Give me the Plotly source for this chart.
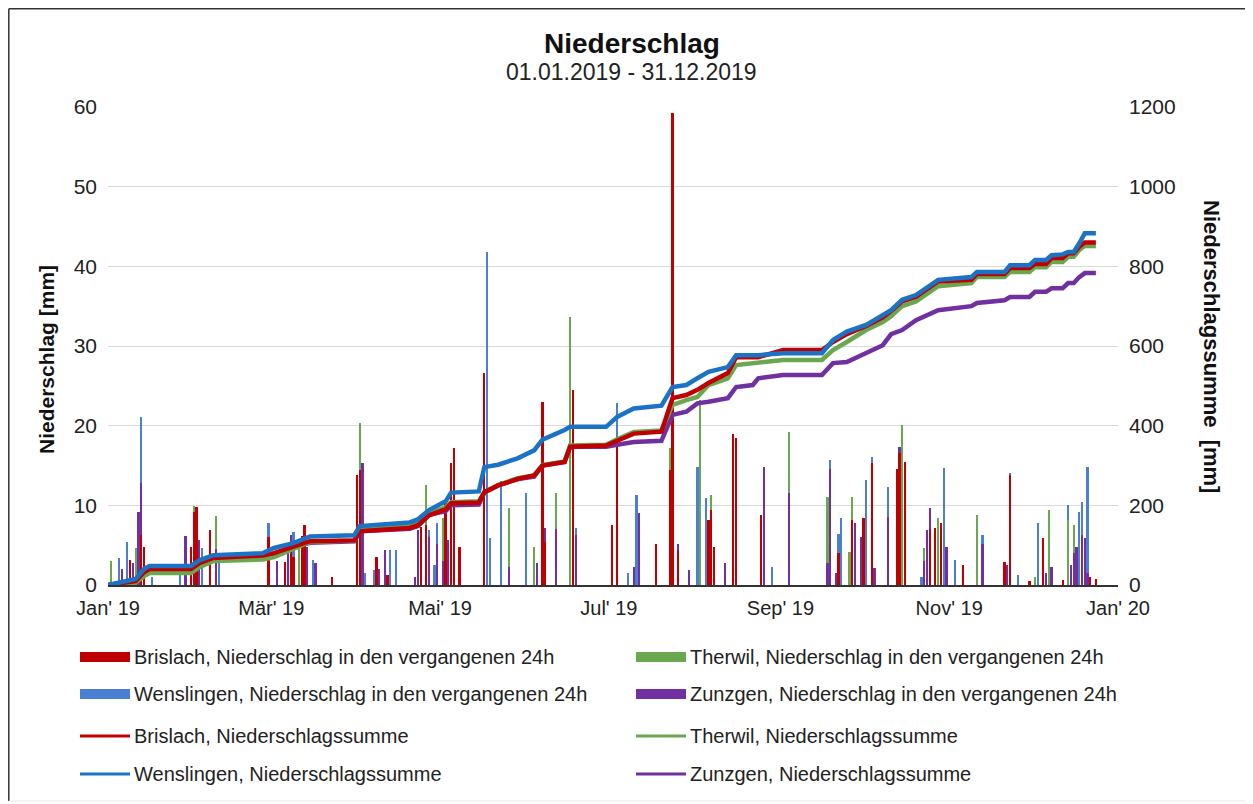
import plotly.graph_objects as go

# ---------------- data ----------------
x_tick_vals = ["2019-01-01", "2019-03-01", "2019-05-01", "2019-07-01",
               "2019-09-01", "2019-11-01", "2020-01-01"]
x_tick_text = ["Jan' 19", "Mär' 19", "Mai' 19", "Jul' 19", "Sep' 19", "Nov' 19", "Jan' 20"]

stations = ["Brislach", "Therwil", "Wenslingen", "Zunzgen"]

# daily precipitation (mm in previous 24h) – only days with visible bars
brislach_dates = ["2019-01-09", "2019-01-13", "2019-01-14", "2019-01-31", "2019-02-01", "2019-02-02",
                  "2019-02-07", "2019-02-28", "2019-03-06", "2019-03-08", "2019-03-09", "2019-03-12",
                  "2019-03-13", "2019-03-23", "2019-04-01", "2019-04-02", "2019-04-08", "2019-04-12",
                  "2019-04-24", "2019-04-26", "2019-05-03", "2019-05-05", "2019-05-06", "2019-05-08",
                  "2019-05-17", "2019-06-07", "2019-06-08", "2019-06-18", "2019-07-02", "2019-07-04",
                  "2019-07-18", "2019-07-23", "2019-07-24", "2019-07-26", "2019-08-06", "2019-08-07",
                  "2019-08-08", "2019-08-15", "2019-08-16", "2019-08-25", "2019-09-22", "2019-09-27",
                  "2019-10-01", "2019-10-04", "2019-10-13", "2019-10-14", "2019-10-16", "2019-10-25",
                  "2019-10-27", "2019-10-29", "2019-11-06", "2019-11-21", "2019-11-23", "2019-11-30",
                  "2019-12-05", "2019-12-12", "2019-12-22", "2019-12-24"]
brislach_values = [3.2, 6.3, 4.8, 4.8, 9.2, 9.8,
                   6.9, 6.0, 2.9, 4.4, 3.5, 6.1,
                   7.5, 1.0, 13.8, 14.4, 3.5, 1.2,
                   7.3, 7.5, 10.5, 15.3, 17.2, 4.8,
                   26.6, 23.0, 5.4, 24.5, 7.5, 17.5,
                   5.2, 14.4, 59.2, 4.4, 8.2, 9.4,
                   4.8, 19.0, 18.5, 8.8, 4.0, 8.1,
                   8.4, 15.3, 14.6, 16.6, 15.4, 7.0,
                   7.1, 7.8, 2.5, 2.9, 13.8, 0.5,
                   5.9, 0.6, 1.0, 0.8]

therwil_dates = ["2019-01-02", "2019-01-11", "2019-02-01", "2019-02-07", "2019-02-09", "2019-03-11",
                 "2019-03-12", "2019-04-02", "2019-04-26", "2019-05-02", "2019-05-26", "2019-06-04",
                 "2019-06-07", "2019-06-12", "2019-06-17", "2019-07-23", "2019-07-24", "2019-08-03",
                 "2019-08-07", "2019-08-16", "2019-09-04", "2019-09-18", "2019-09-26", "2019-09-27",
                 "2019-10-15", "2019-10-23", "2019-10-28", "2019-11-11", "2019-12-02", "2019-12-05",
                 "2019-12-07", "2019-12-14", "2019-12-16"]
therwil_values = [3.0, 4.6, 9.9, 4.4, 8.6, 5.2,
                  5.5, 20.3, 12.5, 8.4, 9.7, 4.8,
                  22.2, 11.5, 33.6, 17.2, 43.5, 23.2,
                  11.3, 17.8, 19.2, 11.0, 4.2, 11.0,
                  20.1, 4.6, 8.4, 8.8, 1.0, 3.0,
                  9.4, 8.2, 7.5]

wenslingen_dates = ["2019-01-05", "2019-01-08", "2019-01-13", "2019-01-17", "2019-01-27", "2019-02-03",
                    "2019-02-04", "2019-02-10", "2019-02-28", "2019-03-03", "2019-03-09", "2019-03-16",
                    "2019-04-04", "2019-04-07", "2019-04-13", "2019-04-15", "2019-04-27", "2019-04-29",
                    "2019-04-30", "2019-05-05", "2019-05-18", "2019-05-19", "2019-05-23", "2019-05-26",
                    "2019-06-01", "2019-06-04", "2019-06-08", "2019-06-19", "2019-07-04", "2019-07-08",
                    "2019-07-11", "2019-08-02", "2019-08-05", "2019-08-29", "2019-09-19", "2019-09-22",
                    "2019-09-23", "2019-10-02", "2019-10-04", "2019-10-10", "2019-10-22", "2019-10-30",
                    "2019-11-03", "2019-11-11", "2019-11-13", "2019-11-23", "2019-11-26", "2019-12-03",
                    "2019-12-07", "2019-12-14", "2019-12-17", "2019-12-18", "2019-12-19", "2019-12-21"]
wenslingen_values = [3.4, 5.4, 21.1, 1.0, 1.2, 3.5,
                     4.7, 2.7, 7.8, 1.5, 6.6, 3.1,
                     1.5, 1.9, 4.4, 4.4, 6.9, 2.5,
                     7.8, 3.0, 41.8, 5.9, 13.0, 6.3,
                     11.5, 2.0, 6.5, 7.1, 22.8, 1.5,
                     11.3, 14.8, 10.9, 2.3, 15.7, 6.4,
                     8.4, 13.2, 16.1, 12.3, 1.0, 14.7,
                     3.1, 3.5, 6.3, 14.1, 1.2, 7.8,
                     3.0, 10.0, 2.5, 9.2, 10.4, 14.8]

zunzgen_dates = ["2019-01-06", "2019-01-10", "2019-01-12", "2019-01-13", "2019-01-14", "2019-01-29",
                 "2019-02-01", "2019-02-03", "2019-02-09", "2019-03-03", "2019-03-07", "2019-03-08",
                 "2019-03-12", "2019-03-14", "2019-03-17", "2019-04-03", "2019-04-09", "2019-04-11",
                 "2019-04-22", "2019-04-23", "2019-04-27", "2019-04-30", "2019-05-02", "2019-05-04",
                 "2019-05-08", "2019-05-17", "2019-05-26", "2019-06-05", "2019-06-08", "2019-06-12",
                 "2019-06-19", "2019-07-10", "2019-07-12", "2019-07-24", "2019-07-26", "2019-07-30",
                 "2019-08-12", "2019-08-26", "2019-09-04", "2019-09-18", "2019-09-19", "2019-09-21",
                 "2019-09-28", "2019-09-30", "2019-10-05", "2019-10-10", "2019-10-14", "2019-10-23",
                 "2019-10-24", "2019-10-25", "2019-10-29", "2019-10-31", "2019-11-13", "2019-11-22",
                 "2019-12-06", "2019-12-08", "2019-12-15", "2019-12-16", "2019-12-17", "2019-12-19",
                 "2019-12-20", "2019-12-21"]
zunzgen_values = [2.0, 2.8, 9.2, 12.8, 4.5, 6.1,
                  7.1, 5.6, 4.5, 3.0, 5.2, 6.3,
                  4.6, 4.8, 2.7, 15.3, 2.0, 4.4,
                  1.0, 6.9, 6.0, 5.2, 3.0, 5.6,
                  4.0, 17.0, 2.3, 2.7, 7.1, 7.0,
                  6.3, 2.3, 9.0, 34.5, 5.2, 1.9,
                  2.7, 14.8, 11.5, 2.7, 14.5, 1.5,
                  7.8, 6.0, 2.1, 8.5, 17.3, 3.0,
                  6.9, 9.7, 5.0, 4.8, 5.2, 2.5,
                  1.5, 2.3, 2.5, 4.0, 4.8, 6.3,
                  5.9, 1.5]

# cumulative precipitation (mm), read at break points of the curves
sum_dates = ["2019-01-01", "2019-01-07", "2019-01-11", "2019-01-14", "2019-01-16", "2019-01-31",
             "2019-02-03", "2019-02-08", "2019-02-26", "2019-03-02", "2019-03-09", "2019-03-15",
             "2019-03-31", "2019-04-02", "2019-04-20", "2019-04-23", "2019-04-27", "2019-05-03",
             "2019-05-05", "2019-05-15", "2019-05-17", "2019-05-22", "2019-05-29", "2019-06-04",
             "2019-06-07", "2019-06-15", "2019-06-17", "2019-06-30", "2019-07-04", "2019-07-10",
             "2019-07-20", "2019-07-24", "2019-07-29", "2019-08-02", "2019-08-06", "2019-08-13",
             "2019-08-16", "2019-08-22", "2019-08-24", "2019-09-02", "2019-09-16", "2019-09-20",
             "2019-09-25", "2019-10-02", "2019-10-08", "2019-10-11", "2019-10-15", "2019-10-20",
             "2019-10-28", "2019-11-09", "2019-11-11", "2019-11-21", "2019-11-23", "2019-11-30",
             "2019-12-02", "2019-12-06", "2019-12-08", "2019-12-12", "2019-12-14", "2019-12-16",
             "2019-12-18", "2019-12-20", "2019-12-24"]
wenslingen_sum = [0, 8, 15, 40, 48, 48,
                  62, 75, 80, 93, 105, 122,
                  125, 148, 157, 165, 188, 210,
                  232, 235, 296, 302, 318, 338,
                  365, 389, 397, 397, 422, 443,
                  450, 497, 502, 519, 535, 547,
                  577, 577, 577, 582, 582, 615,
                  636, 653, 678, 690, 716, 728,
                  766, 773, 786, 786, 803, 803,
                  816, 816, 828, 830, 836, 836,
                  858, 883, 883]
brislach_sum = [0, 5, 10, 32, 40, 40,
                55, 68, 74, 80, 95, 110,
                112, 135, 143, 150, 175, 190,
                205, 207, 233, 250, 266, 275,
                300, 309, 347, 350, 362, 380,
                385, 469, 477, 490, 507, 532,
                572, 572, 572, 590, 590, 610,
                630, 650, 672, 688, 712, 724,
                762, 766, 781, 781, 796, 796,
                806, 806, 821, 821, 833, 833,
                849, 860, 860]
therwil_sum = [0, 3, 6, 22, 30, 30,
               45, 60, 64, 70, 92, 108,
               112, 140, 146, 155, 180, 195,
               208, 210, 233, 251, 268, 275,
               301, 310, 350, 352, 366, 384,
               388, 452, 464, 472, 502, 519,
               552, 557, 557, 565, 565, 590,
               610, 640, 660, 675, 700, 712,
               750, 758, 773, 773, 786, 786,
               798, 798, 811, 811, 824, 824,
               841, 851, 851]
zunzgen_sum = [0, 6, 12, 35, 40, 40,
               55, 68, 74, 78, 95, 106,
               110, 135, 141, 148, 176, 185,
               200, 202, 232, 250, 266, 272,
               300, 309, 347, 347, 352, 359,
               362, 427, 435, 456, 460, 469,
               497, 502, 519, 527, 527, 557,
               560, 582, 602, 630, 640, 665,
               690, 700, 708, 715, 723, 723,
               736, 736, 745, 745, 758, 758,
               773, 783, 783]

# ---------------- styling ----------------
OFF = 8                      # page body margin of the html page
W, H = 1253 - OFF, 804 - OFF
PL, PR, PT, PB = 108, 1118, 107, 585   # plot area in screenshot pixels
FONT = "Liberation Sans, Arial, sans-serif"

bar_colors = {"Brislach": "#c00000", "Therwil": "#6aa84f", "Wenslingen": "#4a7fd4", "Zunzgen": "#7030a0"}
line_colors = {"Brislach": "#c00000", "Therwil": "#6aa84f", "Wenslingen": "#1a73c4", "Zunzgen": "#7030a0"}


def px(x):
    return (x - PL) / (PR - PL)


def py(y):
    return (PB - y) / (PB - PT)


daily = {
    "Brislach": (brislach_dates, brislach_values),
    "Therwil": (therwil_dates, therwil_values),
    "Wenslingen": (wenslingen_dates, wenslingen_values),
    "Zunzgen": (zunzgen_dates, zunzgen_values),
}
sums = {
    "Brislach": brislach_sum,
    "Therwil": therwil_sum,
    "Wenslingen": wenslingen_sum,
    "Zunzgen": zunzgen_sum,
}

fig = go.Figure()

DAY_MS = 86400000
for st in ["Wenslingen", "Therwil", "Zunzgen", "Brislach"]:
    d, v = daily[st]
    fig.add_trace(go.Bar(
        x=d, y=v, name=f"{st}, Niederschlag in den vergangenen 24h",
        marker=dict(color=bar_colors[st], line=dict(width=0)),
        width=0.8 * DAY_MS, showlegend=False, yaxis="y",
    ))

for st in ["Zunzgen", "Therwil", "Brislach", "Wenslingen"]:
    fig.add_trace(go.Scatter(
        x=sum_dates, y=sums[st], name=f"{st}, Niederschlagssumme",
        mode="lines", line=dict(color=line_colors[st], width=4.5),
        showlegend=False, yaxis="y2",
    ))

shapes = []
annotations = []

# manual legend (2 columns x 4 rows)
legend_items = [
    ("bar", "Brislach", 0, 657), ("bar", "Therwil", 1, 657),
    ("bar", "Wenslingen", 0, 694), ("bar", "Zunzgen", 1, 694),
    ("line", "Brislach", 0, 736), ("line", "Therwil", 1, 736),
    ("line", "Wenslingen", 0, 774), ("line", "Zunzgen", 1, 774),
]
col_x = [80, 636]
for kind, st, col, yy in legend_items:
    x0 = col_x[col]
    x1 = x0 + 50
    if kind == "bar":
        shapes.append(dict(type="rect", xref="paper", yref="paper",
                           x0=px(x0), x1=px(x1), y0=py(yy + 5), y1=py(yy - 5),
                           fillcolor=bar_colors[st], line=dict(width=0)))
        label = f"{st}, Niederschlag in den vergangenen 24h"
    else:
        shapes.append(dict(type="line", xref="paper", yref="paper",
                           x0=px(x0), x1=px(x1), y0=py(yy), y1=py(yy),
                           line=dict(color=line_colors[st], width=3)))
        label = f"{st}, Niederschlagssumme"
    annotations.append(dict(text=label, xref="paper", yref="paper",
                            x=px(x1 + 2), y=py(yy), xanchor="left", yanchor="middle",
                            showarrow=False, font=dict(family=FONT, size=20, color="#222222")))

# titles
annotations.append(dict(text="<b>Niederschlag</b>", xref="paper", yref="paper",
                        x=px(632), y=py(43), xanchor="center", yanchor="middle", showarrow=False,
                        font=dict(family=FONT, size=28, color="#111111")))
annotations.append(dict(text="01.01.2019 - 31.12.2019", xref="paper", yref="paper",
                        x=px(631), y=py(72), xanchor="center", yanchor="middle", showarrow=False,
                        font=dict(family=FONT, size=23, color="#222222")))
annotations.append(dict(text="<b>Niederschlag [mm]</b>", xref="paper", yref="paper",
                        x=px(46), y=py(360), xanchor="center", yanchor="middle", showarrow=False,
                        textangle=-90, font=dict(family=FONT, size=21, color="#111111")))
annotations.append(dict(text="<b>Niederschlagssumme\u00a0\u00a0[mm]</b>", xref="paper", yref="paper",
                        x=px(1212), y=py(346), xanchor="center", yanchor="middle", showarrow=False,
                        textangle=90, font=dict(family=FONT, size=22, color="#111111")))

# figure frame (drawn at the edge of the figure canvas)
FT, FL = OFF + 0.8, OFF + 0.8
shapes.append(dict(type="line", xref="paper", yref="paper", x0=px(FL), x1=px(1250), y0=py(FT), y1=py(FT),
                   line=dict(color="#333333", width=1.5)))
shapes.append(dict(type="line", xref="paper", yref="paper", x0=px(FL), x1=px(FL), y0=py(FT), y1=py(801),
                   line=dict(color="#333333", width=1.5)))
shapes.append(dict(type="line", xref="paper", yref="paper", x0=px(1249), x1=px(1249), y0=py(FT), y1=py(801),
                   line=dict(color="#e6e6e6", width=1)))
shapes.append(dict(type="line", xref="paper", yref="paper", x0=px(FL), x1=px(1249), y0=py(801), y1=py(801),
                   line=dict(color="#e6e6e6", width=1)))

fig.update_layout(
    width=W, height=H,
    margin=dict(l=PL - OFF, r=(1253 - PR), t=PT - OFF, b=(804 - PB), pad=0),
    paper_bgcolor="white", plot_bgcolor="white",
    barmode="overlay", bargap=0,
    showlegend=False,
    font=dict(family=FONT, size=20, color="#222222"),
    xaxis=dict(
        type="date", range=["2019-01-01", "2020-01-01"],
        tickvals=x_tick_vals, ticktext=x_tick_text,
        showgrid=False, showline=True, linecolor="#333333", linewidth=1.5,
        ticks="", tickfont=dict(family=FONT, size=20, color="#222222"),
        ticklabelstandoff=4,
    ),
    yaxis=dict(
        range=[0, 60], dtick=10, showgrid=True, gridcolor="#d9d9d9", gridwidth=1,
        zeroline=False, showline=False, ticks="",
        tickfont=dict(family=FONT, size=21, color="#222222"), ticklabelstandoff=10,
    ),
    yaxis2=dict(
        range=[0, 1200], dtick=200, overlaying="y", side="right",
        showgrid=False, zeroline=False, showline=False, ticks="",
        tickfont=dict(family=FONT, size=21, color="#222222"), ticklabelstandoff=10,
    ),
    shapes=shapes,
    annotations=annotations,
)

fig.write_html("out.html")
